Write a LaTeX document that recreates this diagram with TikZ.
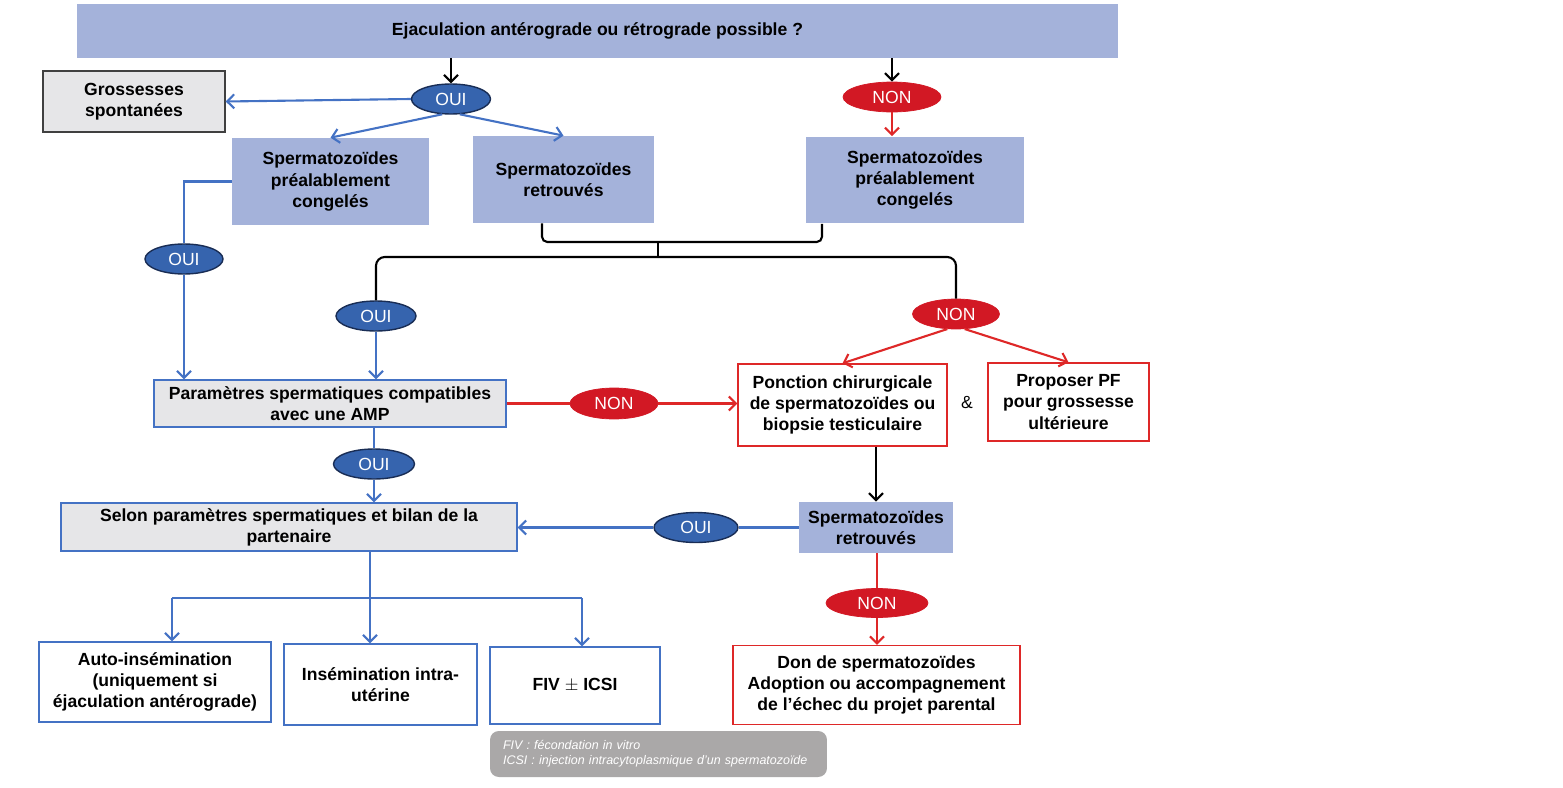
\documentclass[tikz,border=0pt]{standalone}
\usepackage{fontspec}
\setmainfont{Liberation Sans}
\usepackage{xcolor}
\usepackage{tikz}
\usetikzlibrary{shapes.geometric,arrows.meta}

\definecolor{peri}{RGB}{164,178,218}
\definecolor{lgray}{RGB}{230,230,232}
\definecolor{bline}{RGB}{68,114,196}
\definecolor{ouiblue}{RGB}{54,100,174}
\definecolor{ouiedge}{RGB}{25,45,85}
\definecolor{nonred}{RGB}{210,24,36}
\definecolor{rline}{RGB}{222,40,40}
\definecolor{legray}{RGB}{170,168,168}

\tikzset{
  box/.style={rectangle, inner sep=0pt, align=center, font=\fontsize{10}{12}\selectfont\bfseries},
  perbox/.style={box, fill=peri},
  oui/.style={ellipse, inner sep=0pt, fill=ouiblue, draw=ouiedge, line width=0.8pt, text=white, font=\fontsize{10}{12}\selectfont},
  non/.style={ellipse, inner sep=0pt, fill=nonred, draw=nonred, text=white, font=\fontsize{10}{12}\selectfont},
  bl/.style={draw=bline, line width=1.2pt},
  rl/.style={draw=rline, line width=1.2pt},
  blk/.style={draw=black, line width=1.2pt},
  tip/.style={-{Straight Barb[length=4pt,width=8pt]}}
}

\begin{document}
\begin{tikzpicture}[x=0.02cm, y=-0.02cm]
  \useasboundingbox (0,0) rectangle (1563,788);

  % boxes
  \node[perbox, minimum width=20.82cm, minimum height=1.08cm] (title) at (597.5,31) {Ejaculation antérograde ou rétrograde possible ?};
  \node[box, fill=lgray, draw=black!75, line width=0.8pt, minimum width=3.64cm, minimum height=1.22cm] (gross) at (134,101.5) {Grossesses\\spontanées};
  \node[perbox, minimum width=3.94cm, minimum height=1.74cm] (spA) at (330.5,181.5) {Spermatozoïdes\\préalablement\\congelés};
  \node[perbox, minimum width=3.62cm, minimum height=1.74cm] (spB) at (563.5,179.5) {Spermatozoïdes\\retrouvés};
  \node[perbox, minimum width=4.36cm, minimum height=1.74cm] (spC) at (915,180) {Spermatozoïdes\\préalablement\\congelés};
  \node[box, fill=lgray, draw=bline, line width=0.8pt, minimum width=7.04cm, minimum height=0.94cm] (param) at (330,403.5) {Paramètres spermatiques compatibles\\avec une AMP};
  \node[box, fill=white, draw=rline, line width=0.8pt, minimum width=4.18cm, minimum height=1.64cm] (ponct) at (842.5,405) {Ponction chirurgicale\\de spermatozoïdes ou\\biopsie testiculaire};
  \node[box, fill=white, draw=rline, line width=0.8pt, minimum width=3.22cm, minimum height=1.56cm] (propPF) at (1068.5,402) {Proposer PF\\pour grossesse\\ultérieure};
  \node[box, font=\fontsize{10}{12}\selectfont] (et) at (967,403) {\&};
  \node[perbox, minimum width=3.08cm, minimum height=1.02cm] (spD) at (876,527.5) {Spermatozoïdes\\retrouvés};
  \node[box, fill=lgray, draw=bline, line width=0.8pt, minimum width=9.12cm, minimum height=0.96cm] (selon) at (289,527) {Selon paramètres spermatiques et bilan de la\\partenaire};
  \node[box, fill=white, draw=bline, line width=0.8pt, minimum width=4.64cm, minimum height=1.6cm] (autoins) at (155,682) {Auto-insémination\\(uniquement si\\éjaculation antérograde)};
  \node[box, fill=white, draw=bline, line width=0.8pt, minimum width=3.86cm, minimum height=1.62cm] (iiu) at (380.5,684.5) {Insémination intra-\\utérine};
  \node[box, fill=white, draw=bline, line width=0.8pt, minimum width=3.4cm, minimum height=1.54cm] (fiv) at (575,685.5) {FIV $\pm$ ICSI};
  \node[box, fill=white, draw=rline, line width=0.8pt, minimum width=5.74cm, minimum height=1.58cm] (don) at (876.5,685) {Don de spermatozoïdes\\Adoption ou accompagnement\\de l’échec du projet parental};
  \node[rectangle, rounded corners=5pt, fill=legray, text=white, minimum width=6.74cm, minimum height=0.92cm,
        inner xsep=0.26cm, text width=6.22cm, align=left, font=\fontsize{7.1}{8.6}\selectfont\itshape] (legende) at (658.5,754)
        {FIV : fécondation in vitro\\ICSI : injection intracytoplasmique d’un spermatozoïde};

  % ellipses
  \node[oui, minimum width=1.58cm, minimum height=0.6cm] (oui1) at (451,99) {OUI};
  \node[non, minimum width=1.96cm, minimum height=0.6cm] (non1) at (892,97) {NON};
  \node[oui, minimum width=1.56cm, minimum height=0.6cm] (oui2) at (184,259) {OUI};
  \node[oui, minimum width=1.6cm, minimum height=0.6cm] (oui3) at (376,316) {OUI};
  \node[non, minimum width=1.74cm, minimum height=0.6cm] (non2) at (956,314) {NON};
  \node[non, minimum width=1.76cm, minimum height=0.62cm] (non3) at (614,403.5) {NON};
  \node[oui, minimum width=1.68cm, minimum height=0.6cm] (oui4) at (696,527.5) {OUI};
  \node[oui, minimum width=1.62cm, minimum height=0.6cm] (oui5) at (374,464) {OUI};
  \node[non, minimum width=2.04cm, minimum height=0.58cm] (non4) at (877,603) {NON};

  % helper points
  \coordinate (bkL) at (542,242);
  \coordinate (bkR) at (822,242);
  \coordinate (bkM) at (658,242);
  \coordinate (bkM2) at (658,257);
  \coordinate (spl) at (370,598);
  \coordinate (splL) at (172,598);
  \coordinate (splR) at (582,598);

  % connectors
  \draw[blk,tip] (title.south -| oui1) -- (oui1.north);
  \draw[blk,tip] (title.south -| non1) -- (non1.north);
  \draw[bl,tip] (oui1.west) -- (gross.east);
  \draw[bl,tip] (oui1.240) -- (spA.north);
  \draw[bl,tip] (oui1.300) -- (spB.north);
  \draw[rl,tip] (non1.south) -- (non1.south |- spC.north);
  \draw[bl] (spA.west) -| (oui2.north);
  \draw[bl,tip] (oui2.south) -- (oui2.south |- param.north);
  \draw[blk,rounded corners=3pt] (spB.south -| bkL) |- (bkR) -- (spC.south -| bkR);
  \draw[blk] (bkM) -- (bkM2);
  \draw[blk,rounded corners=5pt] (oui3.north) |- (bkM2) -| (non2.north);
  \draw[bl,tip] (oui3.south) -- (oui3.south |- param.north);
  \draw[rl] (param.east) -- (non3.west);
  \draw[rl,tip] (non3.east) -- (non3.east -| ponct.west);
  \draw[rl,tip] (non2.240) -- (ponct.north);
  \draw[rl,tip] (non2.300) -- (propPF.north);
  \draw[blk,tip] (ponct.south -| spD.north) -- (spD.north);
  \draw[bl] (spD.west) -- (oui4.east);
  \draw[bl,tip] (oui4.west) -- (oui4.west -| selon.east);
  \draw[bl] (param.south -| oui5) -- (oui5.north);
  \draw[bl,tip] (oui5.south) -- (oui5.south |- selon.north);
  \draw[bl,tip] (spl |- selon.south) -- (spl |- iiu.north);
  \draw[bl] (splL) -- (splR);
  \draw[bl,tip] (splL) -- (splL |- autoins.north);
  \draw[bl,tip] (splR) -- (splR |- fiv.north);
  \draw[rl] (spD.south -| non4) -- (non4.north);
  \draw[rl,tip] (non4.south) -- (non4.south |- don.north);
\end{tikzpicture}
\end{document}
